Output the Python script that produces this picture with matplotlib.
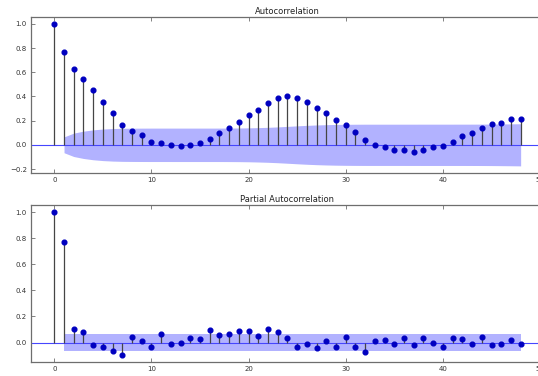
import numpy as np
import matplotlib
matplotlib.use("Agg")
import matplotlib.pyplot as plt

# Sample autocorrelation and partial autocorrelation, lags 0..48
lags = list(range(49))

acf_vals = [1.0, 0.771, 0.63, 0.545, 0.452, 0.355, 0.262, 0.163, 0.118, 0.08,
            0.025, 0.018, 0.0, -0.013, 0.002, 0.015, 0.052, 0.099, 0.135, 0.19,
            0.25, 0.287, 0.345, 0.388, 0.403, 0.388, 0.356, 0.306, 0.267, 0.205,
            0.166, 0.107, 0.038, 0.002, -0.018, -0.043, -0.043, -0.056, -0.041, -0.018,
            -0.011, 0.02, 0.072, 0.097, 0.136, 0.168, 0.182, 0.212, 0.212]

pacf_vals = [1.0, 0.769, 0.105, 0.079, -0.02, -0.036, -0.062, -0.092, 0.041, 0.015,
             -0.036, 0.064, -0.013, -0.003, 0.038, 0.031, 0.097, 0.059, 0.064, 0.092,
             0.087, 0.049, 0.103, 0.084, 0.038, -0.033, -0.014, -0.04, 0.01, -0.035,
             0.045, -0.035, -0.072, 0.01, 0.022, -0.013, 0.033, -0.017, 0.034, -0.003,
             -0.036, 0.033, 0.028, -0.008, 0.041, -0.018, -0.013, 0.021, -0.011]

nobs = 900
z95 = 1.96

titles = ["Autocorrelation", "Partial Autocorrelation"]

lags_arr = np.array(lags)
acf_arr = np.array(acf_vals)
pacf_arr = np.array(pacf_vals)

# 95% bands: Bartlett's formula for the ACF, 1/sqrt(n) for the PACF
acf_var = np.ones(len(lags)) / nobs
acf_var[0] = 0
acf_var[2:] *= 1 + 2 * np.cumsum(acf_arr[1:-1] ** 2)
acf_band = z95 * np.sqrt(acf_var)
pacf_band = np.full(len(lags), z95 / np.sqrt(nobs))

fig = plt.figure(figsize=(5.38, 3.76), dpi=100)
ax1 = fig.add_axes([0.0576, 0.5399, 0.9535, 0.4157])
ax2 = fig.add_axes([0.0576, 0.0380, 0.9535, 0.4168])

spine_col = "#6e6e6e"
for ax, vals, band, title in [(ax1, acf_arr, acf_band, titles[0]),
                              (ax2, pacf_arr, pacf_band, titles[1])]:
    ax.fill_between(lags_arr[1:], -band[1:], band[1:], color="#0000ff",
                    alpha=0.3, linewidth=0, zorder=1)
    ax.axhline(0, color="#4646ff", linewidth=0.8, zorder=2)
    ax.vlines(lags_arr, 0, vals, colors="#454545", linewidth=0.9, zorder=3)
    ax.plot(lags_arr, vals, linestyle="None", marker="o", markersize=3.4,
            color="#0000c0", markeredgecolor="#0000c0", zorder=4)
    ax.margins(0.05)
    ax.set_title(title, fontsize=6, pad=2, color="#222222")
    ax.set_xticks([0, 10, 20, 30, 40, 50])
    ax.tick_params(axis="both", which="major", direction="in", length=3,
                   width=0.6, labelsize=5, pad=3, colors=spine_col,
                   labelcolor="#333333", top=True, right=True)
    for sp in ax.spines.values():
        sp.set_color(spine_col)
        sp.set_linewidth(0.9)

ax1.set_yticks([-0.2, 0.0, 0.2, 0.4, 0.6, 0.8, 1.0])
ax2.set_yticks([0.0, 0.2, 0.4, 0.6, 0.8, 1.0])
ax1.autoscale_view()
ax2.autoscale_view()

fig.savefig("out.png", dpi=100)
